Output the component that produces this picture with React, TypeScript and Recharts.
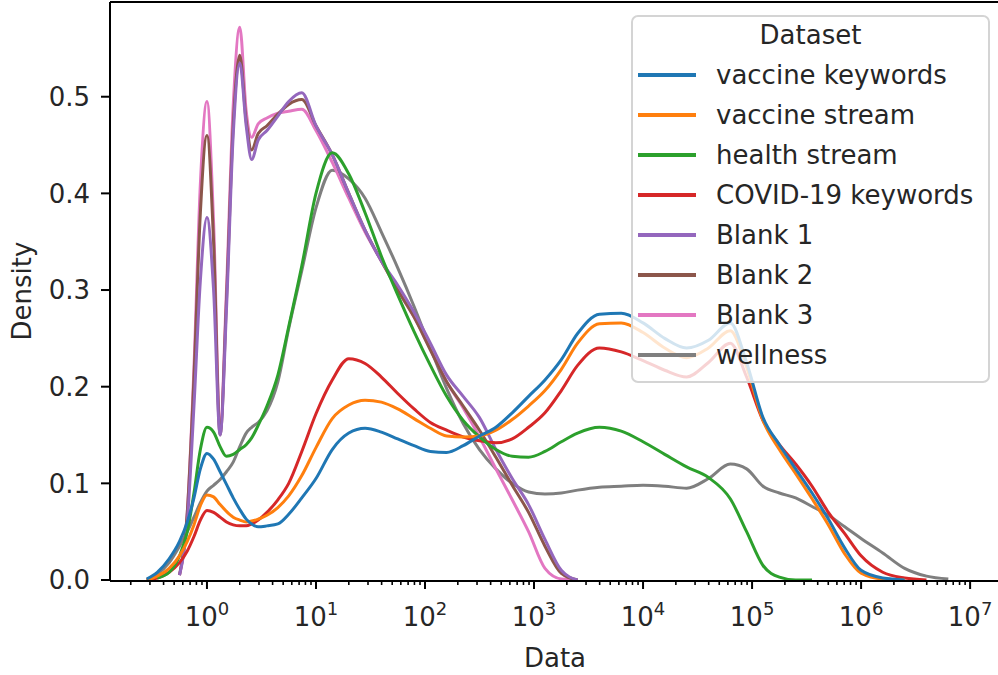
import React from 'react';
import {
  LineChart,
  Line,
  XAxis,
  YAxis,
  ReferenceLine,
} from 'recharts';

// x positions (log-spaced, raw units) shared by every KDE curve
const X_VALUES = [
  0.28, 0.35, 0.45, 0.56, 0.66, 0.76, 0.87, 1, 1.15, 1.32, 1.51, 1.74, 2, 2.29,
  2.57, 2.95, 3.55, 4.47, 5.62, 7.41, 10, 14.1, 20, 28.2, 39.8, 56.2, 79.4, 112,
  158, 224, 316, 447, 631, 891, 1260, 1780, 2510, 3980, 6310, 10000, 15800,
  25100, 39800, 63100, 89100, 126000, 178000, 251000, 355000, 501000, 708000,
  1000000, 1580000, 2510000, 3980000, 6310000, 10000000,
];

const VACCINE_KEYWORDS = [
  0.001, 0.008, 0.022, 0.04, 0.06, 0.085, 0.115, 0.131, 0.125, 0.112, 0.099,
  0.085, 0.073, 0.063, 0.058, 0.055, 0.056, 0.058, 0.068, 0.085, 0.105, 0.135,
  0.152, 0.157, 0.153, 0.146, 0.139, 0.133, 0.132, 0.139, 0.149, 0.158, 0.173,
  0.19, 0.207, 0.228, 0.255, 0.275, 0.276, 0.266, 0.25, 0.24, 0.248, 0.266,
  0.225, 0.168, 0.14, 0.115, 0.09, 0.063, 0.033, 0.01, 0.002, 0, null, null,
  null,
];

const VACCINE_STREAM = [
  0, 0.004, 0.012, 0.025, 0.04, 0.057, 0.077, 0.088, 0.086, 0.078, 0.071,
  0.065, 0.062, 0.06, 0.061, 0.063, 0.067, 0.075, 0.087, 0.108, 0.137, 0.167,
  0.181, 0.186, 0.184, 0.177, 0.167, 0.157, 0.149, 0.148, 0.149, 0.155, 0.166,
  0.18, 0.196, 0.218, 0.245, 0.265, 0.266, 0.256, 0.24, 0.23, 0.24, 0.258,
  0.22, 0.165, 0.135, 0.11, 0.084, 0.057, 0.027, 0.007, 0.001, 0, null, null,
  null,
];

const HEALTH_STREAM = [
  null, 0.002, 0.008, 0.025, 0.05, 0.09, 0.135, 0.158, 0.153, 0.138, 0.128,
  0.13, 0.135, 0.14, 0.147, 0.16, 0.18, 0.212, 0.262, 0.325, 0.4, 0.442, 0.42,
  0.38, 0.335, 0.295, 0.257, 0.222, 0.19, 0.165, 0.148, 0.135, 0.128, 0.127,
  0.133, 0.143, 0.152, 0.158, 0.154, 0.143, 0.13, 0.117, 0.106, 0.084, 0.05,
  0.015, 0.003, 0, 0, null, null, null, null, null, null, null, null,
];

const COVID_KEYWORDS = [
  0, 0.002, 0.008, 0.018, 0.03, 0.045, 0.062, 0.072, 0.07, 0.065, 0.06, 0.057,
  0.056, 0.056, 0.058, 0.062, 0.07, 0.083, 0.1, 0.133, 0.172, 0.207, 0.229,
  0.224, 0.21, 0.193, 0.177, 0.163, 0.155, 0.148, 0.144, 0.142, 0.146, 0.158,
  0.173, 0.196, 0.222, 0.24, 0.236, 0.227, 0.217, 0.21, 0.225, 0.245, 0.21,
  0.165, 0.14, 0.12, 0.097, 0.07, 0.048, 0.025, 0.008, 0.002, 0, null, null,
];

const BLANK_1 = [
  null, null, null, 0.005, 0.06, 0.18, 0.31, 0.375, 0.3, 0.15, 0.28, 0.46,
  0.535, 0.47, 0.435, 0.455, 0.465, 0.48, 0.495, 0.504, 0.47, 0.44, 0.4, 0.362,
  0.33, 0.305, 0.277, 0.245, 0.212, 0.19, 0.168, 0.135, 0.105, 0.078, 0.042,
  0.01, 0, null, null, null, null, null, null, null, null, null, null, null,
  null, null, null, null, null, null, null, null, null,
];

const BLANK_2 = [
  null, null, null, 0.005, 0.07, 0.21, 0.38, 0.46, 0.35, 0.15, 0.29, 0.47,
  0.543, 0.475, 0.445, 0.462, 0.47, 0.482, 0.492, 0.497, 0.47, 0.44, 0.4,
  0.362, 0.33, 0.3, 0.272, 0.238, 0.205, 0.18, 0.155, 0.127, 0.098, 0.07,
  0.035, 0.007, 0, null, null, null, null, null, null, null, null, null, null,
  null, null, null, null, null, null, null, null, null, null,
];

const BLANK_3 = [
  null, null, null, 0.005, 0.07, 0.22, 0.41, 0.495, 0.37, 0.155, 0.3, 0.49,
  0.572, 0.485, 0.458, 0.472, 0.478, 0.483, 0.485, 0.487, 0.465, 0.432, 0.395,
  0.36, 0.33, 0.3, 0.272, 0.24, 0.205, 0.178, 0.148, 0.115, 0.083, 0.05,
  0.012, 0.001, 0, null, null, null, null, null, null, null, null, null, null,
  null, null, null, null, null, null, null, null, null, null,
];

const WELLNESS = [
  0, 0.006, 0.018, 0.035, 0.05, 0.065, 0.08, 0.092, 0.098, 0.104, 0.112,
  0.122, 0.138, 0.152, 0.158, 0.163, 0.175, 0.205, 0.26, 0.32, 0.385, 0.424,
  0.415, 0.395, 0.36, 0.323, 0.283, 0.24, 0.198, 0.162, 0.135, 0.115, 0.1,
  0.091, 0.089, 0.09, 0.093, 0.096, 0.097, 0.098, 0.097, 0.095, 0.105, 0.12,
  0.115, 0.097, 0.09, 0.085, 0.076, 0.067, 0.055, 0.043, 0.028, 0.012, 0.004,
  0.001, null,
];

const X_TICKS = [1, 10, 100, 1000, 10000, 100000, 1000000, 10000000];
const X_TICK_EXPONENTS = ['0', '1', '2', '3', '4', '5', '6', '7'];
const Y_TICKS = [0, 0.1, 0.2, 0.3, 0.4, 0.5];

const X_DOMAIN: [number, number] = [0.129, 18800000];
const Y_MAX = 0.598;

const MINOR_MULTIPLIERS = [2, 3, 4, 5, 6, 7, 8, 9];
const MINOR_TICKS = [0.1, ...X_TICKS]
  .flatMap((d) => MINOR_MULTIPLIERS.map((m) => m * d))
  .filter((v) => v > X_DOMAIN[0] && v < X_DOMAIN[1]);

const SERIES = [
  { key: 'vk', name: 'vaccine keywords', color: '#1f77b4', values: VACCINE_KEYWORDS },
  { key: 'vs', name: 'vaccine stream', color: '#ff7f0e', values: VACCINE_STREAM },
  { key: 'hs', name: 'health stream', color: '#2ca02c', values: HEALTH_STREAM },
  { key: 'ck', name: 'COVID-19 keywords', color: '#d62728', values: COVID_KEYWORDS },
  { key: 'b1', name: 'Blank 1', color: '#9467bd', values: BLANK_1 },
  { key: 'b2', name: 'Blank 2', color: '#8c564b', values: BLANK_2 },
  { key: 'b3', name: 'Blank 3', color: '#e377c2', values: BLANK_3 },
  { key: 'wl', name: 'wellness', color: '#7f7f7f', values: WELLNESS },
];

const chartData = X_VALUES.map((x, i) => {
  const row: Record<string, number | null> = { x };
  SERIES.forEach((s) => {
    row[s.key] = s.values[i];
  });
  return row;
});

const FONT = 'DejaVu Sans';
const TEXT = '#262626';
const FONT_SIZE = 26;

function LogTick(props: { x?: number; y?: number; payload?: { value: number } }) {
  const { x = 0, y = 0, payload } = props;
  const idx = X_TICKS.indexOf(payload?.value ?? -1);
  return (
    <text x={x} y={y + 37} textAnchor="middle" fontSize={FONT_SIZE} fill={TEXT} fontFamily={FONT}>
      <tspan>10</tspan>
      <tspan dy={-11} fontSize={18}>
        {X_TICK_EXPONENTS[idx] ?? ''}
      </tspan>
    </text>
  );
}

// minor ticks carry no label
const NoLabel = () => <g />;

function DensityLabel(props: { viewBox?: { y?: number; height?: number } }) {
  const y = props.viewBox?.y ?? 2;
  const h = props.viewBox?.height ?? 578;
  return (
    <text
      transform={`translate(31, ${y + h / 2}) rotate(-90)`}
      textAnchor="middle"
      fontSize={FONT_SIZE}
      fill={TEXT}
      fontFamily={FONT}
    >
      Density
    </text>
  );
}

function DataLabel(props: { viewBox?: { x?: number; width?: number } }) {
  const x = props.viewBox?.x ?? 110;
  const w = props.viewBox?.width ?? 890;
  return (
    <text x={x + w / 2} y={667} textAnchor="middle" fontSize={FONT_SIZE} fill={TEXT} fontFamily={FONT}>
      Data
    </text>
  );
}

function DatasetLegend() {
  return (
    <div
      style={{
        position: 'absolute',
        left: 631,
        top: 15,
        width: 359,
        height: 368,
        boxSizing: 'border-box',
        border: '2px solid #d4d4d4',
        borderRadius: 7,
        background: 'rgba(255,255,255,0.8)',
        fontFamily: FONT,
        fontSize: FONT_SIZE,
        color: TEXT,
      }}
    >
      <div
        style={{
          position: 'absolute',
          top: -2,
          left: 0,
          right: 0,
          height: 40,
          lineHeight: '40px',
          textAlign: 'center',
        }}
      >
        Dataset
      </div>
      {SERIES.map((s, i) => (
        <div
          key={s.key}
          style={{
            position: 'absolute',
            top: 38 + i * 40,
            left: 0,
            height: 40,
            lineHeight: '40px',
            whiteSpace: 'nowrap',
          }}
        >
          <span
            style={{
              position: 'absolute',
              left: 5,
              top: 18,
              width: 58,
              height: 4,
              background: s.color,
            }}
          />
          <span style={{ position: 'absolute', left: 83, top: 0 }}>{s.name}</span>
        </div>
      ))}
    </div>
  );
}

export default function App() {
  const axisStroke = { stroke: '#000', strokeWidth: 2 };
  return (
    <div
      style={{
        position: 'absolute',
        left: 0,
        top: 0,
        width: 998,
        height: 675,
        overflow: 'hidden',
        background: '#fff',
      }}
    >
      <LineChart
        width={1000}
        height={675}
        data={chartData}
        margin={{ top: 2, right: 0, bottom: 0, left: 0 }}
        style={{ fontFamily: FONT }}
      >
        {/* minor log ticks: 1px-high axis stacked right at the plot bottom */}
        <XAxis
          xAxisId="a-minor"
          dataKey="x"
          type="number"
          scale="log"
          domain={X_DOMAIN}
          allowDataOverflow
          ticks={MINOR_TICKS}
          interval={0}
          height={1}
          tick={NoLabel}
          tickSize={5}
          axisLine={false}
          tickLine={{ stroke: '#000', strokeWidth: 1.6 }}
        />
        <XAxis
          xAxisId="b-major"
          dataKey="x"
          type="number"
          scale="log"
          domain={X_DOMAIN}
          allowDataOverflow
          ticks={X_TICKS}
          interval={0}
          height={94}
          tickSize={8}
          tickMargin={0}
          tick={<LogTick />}
          axisLine={axisStroke}
          tickLine={axisStroke}
          label={DataLabel}
        />
        <YAxis
          type="number"
          domain={[0, Y_MAX]}
          ticks={Y_TICKS}
          interval={0}
          width={110}
          tickSize={9}
          tickMargin={11}
          tickFormatter={(v: number) => v.toFixed(1)}
          tick={{ fontSize: FONT_SIZE, fill: TEXT, fontFamily: FONT }}
          axisLine={axisStroke}
          tickLine={axisStroke}
          label={DensityLabel}
        />
        <ReferenceLine xAxisId="b-major" y={Y_MAX} stroke="#000" strokeWidth={2} />
        {[...SERIES].reverse().map((s) => (
          <Line
            key={s.key}
            xAxisId="b-major"
            dataKey={s.key}
            name={s.name}
            type="monotone"
            stroke={s.color}
            strokeWidth={3}
            dot={false}
            activeDot={false}
            isAnimationActive={false}
          />
        ))}
      </LineChart>
      <DatasetLegend />
    </div>
  );
}
